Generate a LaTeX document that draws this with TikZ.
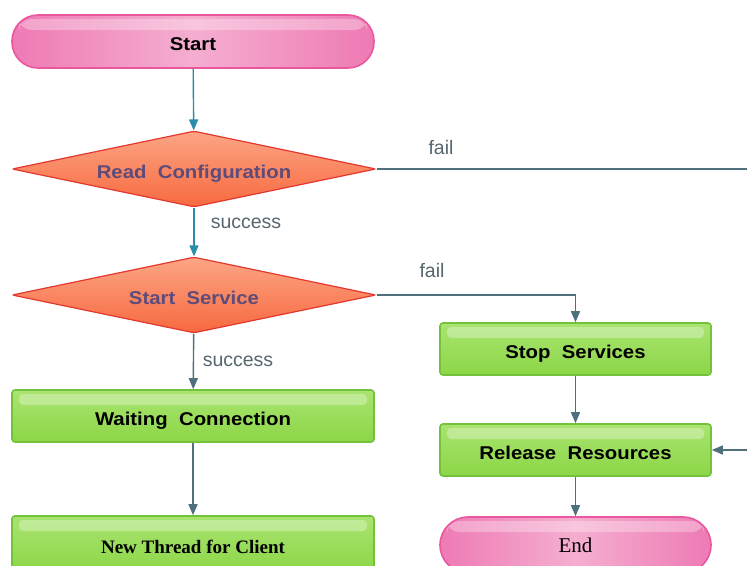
\documentclass[tikz,border=0pt]{standalone}
\usepackage{fontspec}
\setmainfont{Liberation Serif}
\newfontfamily\boxfont[FakeStretch=1.1]{Liberation Sans}
\newfontfamily\labelfont{Liberation Sans}
\usetikzlibrary{shapes.geometric,arrows.meta,calc}

\definecolor{pinkedge}{HTML}{E9579F}
\definecolor{pinkside}{HTML}{EE7AB4}
\definecolor{pinkmid}{HTML}{F5AED0}
\definecolor{orangeedge}{HTML}{E2382E}
\definecolor{orangetop}{HTML}{FCA585}
\definecolor{orangebot}{HTML}{F7693F}
\definecolor{greenedge}{HTML}{74C23C}
\definecolor{greentop}{HTML}{A9E470}
\definecolor{greenbot}{HTML}{8CD647}
\definecolor{diamondtext}{HTML}{5D4B7A}
\definecolor{tealline}{HTML}{2A8CAB}
\definecolor{slateline}{HTML}{4E6F7B}
\definecolor{labelgrey}{HTML}{56656E}

\tikzset{
  gloss/.style={path picture={
      \fill[white,opacity=0.3,rounded corners=#1]
        ($(path picture bounding box.north west)+(7,4)$) rectangle
        ($(path picture bounding box.north east)+(-7,15)$);
    }},
  boxtext/.style={font=\boxfont\bfseries\fontsize{18.5}{20}\selectfont,
    text height=18pt, text depth=0pt},
  pill/.style={draw=pinkedge, line width=1.6pt, rounded corners=26pt,
    left color=pinkside, right color=pinkside, middle color=pinkmid,
    minimum width=362pt, minimum height=53pt, inner sep=0pt, gloss=12pt},
  decision/.style={diamond, shape aspect=4.8, draw=orangeedge, line width=1.2pt,
    rounded corners=2pt, top color=orangetop, bottom color=orangebot,
    minimum width=364pt, minimum height=76pt, inner sep=0pt,
    text=diamondtext, boxtext},
  process/.style={rectangle, draw=greenedge, line width=1.6pt, rounded corners=3pt,
    top color=greentop, bottom color=greenbot,
    minimum height=52pt, inner sep=0pt, gloss=4pt, boxtext},
  flow/.style={line width=1.4pt, -{Triangle[length=11pt,width=9pt]}},
  edgelabel/.style={text=labelgrey, font=\labelfont\fontsize{19.5}{21}\selectfont,
    inner sep=0pt}
}

\begin{document}
\begin{tikzpicture}[x=1pt,y=-1pt]
  \useasboundingbox (0,0) rectangle (747,565);
  \clip (0,0) rectangle (747,565);

  % nodes
  \node[pill, boxtext] (start) at (193,41.5) {Start};
  \node[decision] (readcfg) at (194,169) {Read\ \ Configuration};
  \node[decision] (startsvc) at (194,295) {Start\ \ Service};
  \node[process, minimum width=362pt] (waiting) at (193,416) {Waiting\ \ Connection};
  \node[process, minimum width=362pt, minimum height=56pt,
        font=\rmfamily\bfseries\fontsize{19}{21}\selectfont] (thread) at (193,544) {New Thread for Client};
  \node[process, minimum width=271pt] (stop) at (575.5,349) {Stop\ \ Services};
  \node[process, minimum width=271pt] (release) at (575.5,450) {Release\ \ Resources};
  \node[pill, minimum width=271pt, minimum height=56pt, rounded corners=28pt,
        font=\rmfamily\fontsize{21}{23}\selectfont] (finish) at (575.5,545) {End};

  % free ends at the right edge
  \coordinate (cfgfail) at (747,169);
  \coordinate (relin) at (747,450);

  % connectors
  \draw[flow, tealline] (start) -- (readcfg);
  \draw[flow, tealline] (readcfg) -- (startsvc);
  \draw[line width=1.4pt, slateline] (readcfg.east) -- (cfgfail);
  \draw[flow, slateline] (startsvc.east) -| (stop.north);
  \draw[flow, slateline] (startsvc) -- (waiting);
  \draw[flow, slateline] (waiting) -- (thread);
  \draw[flow, slateline] (stop) -- (release);
  \draw[flow, slateline] (relin) -- (release.east);
  \draw[flow, slateline] (release) -- (finish);

  % connector labels
  \node[edgelabel] (lfail1) at (441,148) {fail};
  \node[edgelabel] (lsucc1) at (246,223) {success};
  \node[edgelabel] (lfail2) at (432,271) {fail};
  \node[edgelabel] (lsucc2) at (238,361) {success};
\end{tikzpicture}
\end{document}
